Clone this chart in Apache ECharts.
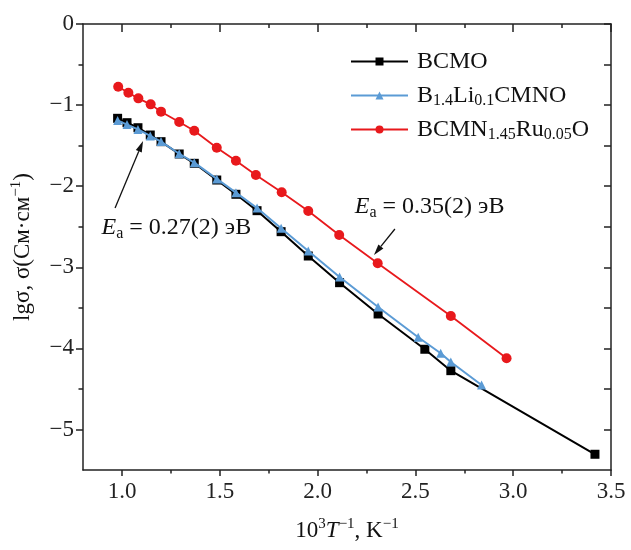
<!DOCTYPE html>
<html>
<head>
<meta charset="utf-8">
<script src="https://cdn.jsdelivr.net/npm/echarts@6/dist/echarts.min.js"></script>
<style>html,body{margin:0;padding:0;background:#fff}#c{width:631px;height:550px}</style>
</head>
<body>
<div id="c"></div>
<script>
// ---- data ----
const bcmoX = [0.977, 1.025, 1.081, 1.144, 1.199, 1.292, 1.369, 1.484, 1.582, 1.690, 1.813, 1.952, 2.112, 2.309, 2.548, 2.681, 3.418];
const bcmoY = [-1.163, -1.217, -1.279, -1.369, -1.451, -1.603, -1.718, -1.924, -2.100, -2.302, -2.561, -2.861, -3.190, -3.576, -4.011, -4.275, -5.306];
const liX = [0.977, 1.025, 1.081, 1.144, 1.199, 1.292, 1.369, 1.484, 1.582, 1.690, 1.813, 1.952, 2.112, 2.309, 2.514, 2.629, 2.681, 2.838];
const liY = [-1.19, -1.24, -1.30, -1.38, -1.45, -1.60, -1.71, -1.91, -2.08, -2.27, -2.52, -2.80, -3.12, -3.49, -3.863, -4.06, -4.168, -4.451];
const ruX = [0.980, 1.032, 1.083, 1.146, 1.199, 1.292, 1.369, 1.484, 1.582, 1.684, 1.816, 1.952, 2.110, 2.307, 2.681, 2.966];
const ruY = [-0.773, -0.847, -0.917, -0.991, -1.081, -1.208, -1.316, -1.525, -1.686, -1.862, -2.075, -2.306, -2.602, -2.951, -3.600, -4.122];
const seriesNames = ['BCMO', 'B1.4Li0.1CMNO', 'BCMN1.45Ru0.05O'];
const legendRich = {
  'BCMO': 'BCMO',
  'B1.4Li0.1CMNO': 'B{sub|1.4}Li{sub|0.1}CMNO',
  'BCMN1.45Ru0.05O': 'BCMN{sub|1.45}Ru{sub|0.05}O'
};
const xMajor = [1.0, 1.5, 2.0, 2.5, 3.0, 3.5];
const xMinor = [1.25, 1.75, 2.25, 2.75, 3.25];
const yMajor = [-5, -4, -3, -2, -1, 0];
const yMinor = [-4.5, -3.5, -2.5, -1.5, -0.5];
const xName = '10{sup|3}{it|T}{sup|−1}, K{sup|−1}';
const yName = 'lgσ, σ(См·см{sup|−1})';
const ann1 = {text: '{it|E}{sub|a} = 0.27(2) эВ', at: [0.895, -2.515], from: [0.964, -2.269], to: [1.107, -1.443]};
const ann2 = {text: '{it|E}{sub|a} = 0.35(2) эВ', at: [2.19, -2.256], from: [2.395, -2.528], to: [2.288, -2.848]};

const FONT = 'Liberation Serif';
const FS = 23;
const FL = 24;
function rich(fs) {
  return {
    sup: {fontFamily: FONT, fontSize: Math.round(fs * 0.64), lineHeight: 12, verticalAlign: 'top', color: '#111'},
    sub: {fontFamily: FONT, fontSize: Math.round(fs * 0.68), lineHeight: 11, verticalAlign: 'bottom', color: '#111'},
    it: {fontFamily: FONT, fontSize: fs, fontStyle: 'italic', lineHeight: 27, color: '#111'}
  };
}
const zip = (xs, ys) => xs.map((x, i) => [x, ys[i]]);
const fmtMinus = v => (v < 0 ? '−' + Math.abs(v) : String(v));

function xAxisDef(pos, vals, len, inside, showLine, showLabel, extra) {
  return Object.assign({
    type: 'value', position: pos, min: 0.8, max: 3.5,
    axisLine: {show: showLine, onZero: false, lineStyle: {color: '#222', width: 1.5}},
    axisTick: {show: true, inside: inside, length: len, customValues: vals, lineStyle: {color: '#222', width: 1.5}},
    axisLabel: showLabel ? {customValues: vals, fontFamily: FONT, fontSize: FS, color: '#222', margin: 10,
      formatter: v => v.toFixed(1)} : {show: false},
    splitLine: {show: false}
  }, extra || {});
}
function yAxisDef(pos, vals, len, inside, showLine, showLabel, extra) {
  return Object.assign({
    type: 'value', position: pos, min: -5.5, max: 0,
    axisLine: {show: showLine, onZero: false, lineStyle: {color: '#222', width: 1.5}},
    axisTick: {show: true, inside: inside, length: len, customValues: vals, lineStyle: {color: '#222', width: 1.5}},
    axisLabel: showLabel ? {customValues: vals, fontFamily: FONT, fontSize: FS, color: '#222', margin: 9,
      formatter: fmtMinus} : {show: false},
    splitLine: {show: false}
  }, extra || {});
}

const chart = echarts.init(document.getElementById('c'), null, {renderer: 'canvas'});
const option = {
  animation: false,
  backgroundColor: '#fff',
  grid: {left: 83, right: 20, top: 24, bottom: 80, containLabel: false},
  xAxis: [
    xAxisDef('bottom', xMajor, 6, false, true, true, {
      name: xName, nameLocation: 'middle', nameGap: 47,
      nameTextStyle: {fontFamily: FONT, fontSize: FS, color: '#111', lineHeight: 27, rich: rich(FS)}
    }),
    xAxisDef('bottom', xMinor, 3.5, false, false, false),
    xAxisDef('top', xMajor, 8, true, true, false),
    xAxisDef('top', xMinor, 4, true, false, false)
  ],
  yAxis: [
    yAxisDef('left', yMajor, 7, false, true, true, {
      name: yName, nameLocation: 'middle', nameGap: 47,
      nameTextStyle: {fontFamily: FONT, fontSize: FS, color: '#111', lineHeight: 27, rich: rich(FS)}
    }),
    yAxisDef('left', yMinor, 4.5, false, false, false),
    yAxisDef('right', yMajor, 7, true, true, false),
    yAxisDef('right', yMinor, 7, true, false, false)
  ],
  legend: {
    orient: 'vertical', left: 345, top: 43,
    itemWidth: 57, itemHeight: 10, itemGap: 7,
    data: seriesNames,
    formatter: n => legendRich[n],
    textStyle: {fontFamily: FONT, fontSize: FL, color: '#111', lineHeight: 27, padding: [0, 0, 0, 4], rich: rich(FL)}
  },
  series: [
    {name: seriesNames[0], type: 'line', data: zip(bcmoX, bcmoY), symbol: 'rect', symbolSize: 9,
      itemStyle: {color: '#000'}, lineStyle: {color: '#000', width: 2}, z: 2},
    {name: seriesNames[1], type: 'line', data: zip(liX, liY), symbol: 'triangle', symbolSize: 9,
      itemStyle: {color: '#5b9bd5'}, lineStyle: {color: '#5b9bd5', width: 2}, z: 3},
    {name: seriesNames[2], type: 'line', data: zip(ruX, ruY), symbol: 'circle', symbolSize: 10,
      itemStyle: {color: '#e8191c'}, lineStyle: {color: '#e8191c', width: 1.8}, z: 4}
  ]
};
chart.setOption(option);

function toPx(p) { return chart.convertToPixel({xAxisIndex: 0, yAxisIndex: 0}, p); }
function arrow(a) {
  const p0 = toPx(a.from), p1 = toPx(a.to);
  const dx = p1[0] - p0[0], dy = p1[1] - p0[1];
  const L = Math.hypot(dx, dy), ux = dx / L, uy = dy / L;
  const hl = 11, hw = 3.2;
  const bx = p1[0] - ux * hl, by = p1[1] - uy * hl;
  return [
    {type: 'line', shape: {x1: p0[0], y1: p0[1], x2: bx, y2: by}, style: {stroke: '#111', lineWidth: 1.3}, z: 10},
    {type: 'polygon', shape: {points: [[p1[0], p1[1]], [bx - uy * hw, by + ux * hw], [bx + uy * hw, by - ux * hw]]},
      style: {fill: '#111'}, z: 10}
  ];
}
function label(a) {
  const p = toPx(a.at);
  return {type: 'text', x: p[0], y: p[1], z: 10,
    style: {text: a.text, fontFamily: FONT, fontSize: FL, fill: '#111', lineHeight: 27,
      align: 'left', verticalAlign: 'middle', rich: rich(FL)}};
}
chart.setOption({graphic: [].concat(arrow(ann1), arrow(ann2), [label(ann1), label(ann2)])});
</script>
</body>
</html>
